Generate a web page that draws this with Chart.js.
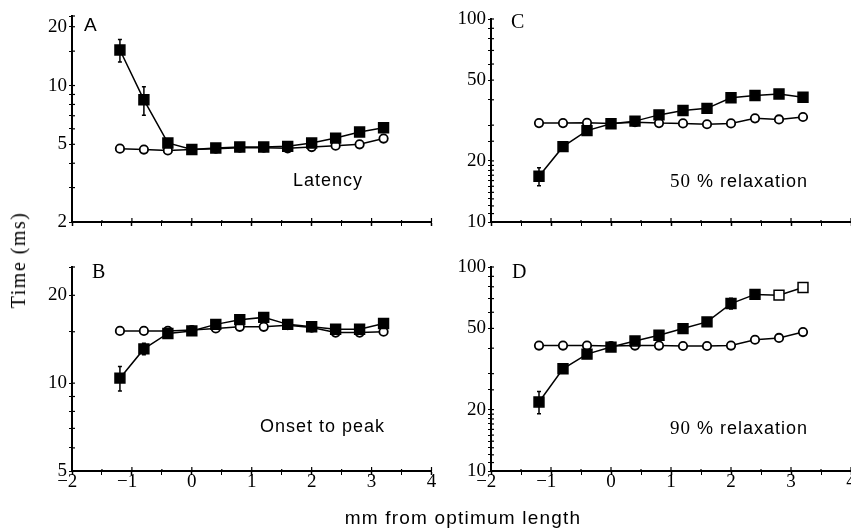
<!DOCTYPE html>
<html><head><meta charset="utf-8">
<script src="https://cdn.jsdelivr.net/npm/chart.js@4.4.1/dist/chart.umd.min.js"></script>
<style>
html,body{margin:0;padding:0;background:#fff;overflow:hidden;width:851px;height:529px;position:relative;}
canvas{position:absolute;}
.t{position:absolute;color:#000;white-space:nowrap;line-height:1;}
.serif{font-family:"Liberation Serif",serif;}
.sans{font-family:"Liberation Sans",sans-serif;}
</style></head><body>
<canvas id="cA" width="440" height="240" style="left:0;top:0"></canvas>
<canvas id="cB" width="440" height="279" style="left:0;top:250px"></canvas>
<canvas id="cC" width="440" height="240" style="left:420px;top:0"></canvas>
<canvas id="cD" width="440" height="279" style="left:420px;top:250px"></canvas>

<div class="t sans" style="left:84px;top:15px;font-size:19px">A</div>
<div class="t serif" style="left:92px;top:261px;font-size:20px">B</div>
<div class="t serif" style="left:511px;top:11px;font-size:20px">C</div>
<div class="t serif" style="left:512px;top:261px;font-size:20px">D</div>

<div class="t sans" style="left:293px;top:171px;font-size:18px;letter-spacing:1px">Latency</div>
<div class="t sans" style="left:260px;top:417px;font-size:18px;letter-spacing:1px">Onset to peak</div>
<div class="t" style="left:670px;top:171px;font-size:18px;letter-spacing:1px"><span class="serif" style="font-size:19px">50</span><span class="sans"> % relaxation</span></div>
<div class="t" style="left:670px;top:418px;font-size:18px;letter-spacing:1px"><span class="serif" style="font-size:19px">90</span><span class="sans"> % relaxation</span></div>

<div class="t serif" style="left:18px;top:260px;font-size:20px;letter-spacing:1.5px;transform:translate(-50%,-50%) rotate(-90deg)">Time (ms)</div>
<div class="t sans" style="left:463px;top:517px;font-size:19px;letter-spacing:1.2px;transform:translate(-50%,-50%)">mm from optimum length</div>

<script>
// ---- data ----
const lengths = [-1.2, -0.8, -0.4, 0, 0.4, 0.8, 1.2, 1.6, 2.0, 2.4, 2.8, 3.2];

const latencyFilled = [15.2, 8.45, 5.08, 4.70, 4.79, 4.84, 4.84, 4.88, 5.08, 5.38, 5.78, 6.08];
const latencyFilledErr = [2.0, 1.4, 0, 0, 0, 0, 0, 0, 0, 0, 0, 0];
const latencyOpen = [4.75, 4.70, 4.65, 4.70, 4.75, 4.80, 4.80, 4.77, 4.84, 4.92, 5.00, 5.35];

const onsetFilled = [10.4, 13.1, 14.8, 15.1, 15.9, 16.5, 16.8, 15.9, 15.6, 15.3, 15.3, 16.0];
const onsetFilledErr = [1.0, 0.6, 0, 0, 0, 0, 0, 0, 0, 0, 0, 0];
const onsetOpen = [15.1, 15.1, 15.1, 15.2, 15.4, 15.6, 15.6, 15.8, 15.5, 14.9, 14.9, 15.0];

const relax50Filled = [16.8, 23.5, 28.2, 30.5, 31.4, 33.7, 35.4, 36.3, 40.9, 42.0, 42.7, 41.2];
const relax50FilledErr = [1.7, 0, 0, 0, 0, 0, 0, 0, 0, 0, 0, 0];
const relax50Open = [30.7, 30.7, 30.8, 30.6, 31.0, 30.7, 30.6, 30.3, 30.6, 32.4, 32.0, 32.9];

const relax90Filled = [21.8, 31.7, 37.4, 40.5, 43.4, 46.3, 49.9, 53.8, 66.2, 73.4, 72.8, 79.4];
const relax90FilledErr = [2.7, 0, 0, 0, 0, 0, 0, 0, 4.0, 0, 0, 0];
const relax90Hollow = [0, 0, 0, 0, 0, 0, 0, 0, 0, 0, 1, 1];
const relax90Open = [41.2, 41.2, 41.2, 41.0, 41.2, 41.2, 41.0, 41.0, 41.2, 44.0, 44.9, 48.0];

const xTickLabels = [-2, -1, 0, 1, 2, 3, 4];
const yTickLabelsA = [2, 5, 10, 20];
const yTickLabelsB = [5, 10, 20];
const yTickLabelsCD = [10, 20, 50, 100];

// ---- drawing ----
Chart.defaults.font.family = '"Liberation Serif", serif';
Chart.defaults.font.size = 19;
Chart.defaults.color = '#000';

const pts = (ys) => lengths.map((x, i) => ({x: x, y: ys[i]}));
const fmtX = (v) => v < 0 ? '\u2212' + Math.abs(v) + '\u2007' : String(v);

const decor = {
  id: 'decor',
  beforeDatasetsDraw(chart) {
    const ctx = chart.ctx, xs = chart.scales.x, ys = chart.scales.y;
    ctx.save();
    ctx.strokeStyle = '#000';
    ctx.lineWidth = 1.5;
    chart.data.datasets.forEach((ds) => {
      if (!ds.errors) return;
      ds.data.forEach((p, j) => {
        const e = ds.errors[j];
        if (!e) return;
        const x = xs.getPixelForValue(p.x);
        const y1 = ys.getPixelForValue(p.y + e), y2 = ys.getPixelForValue(p.y - e);
        ctx.beginPath();
        ctx.moveTo(x, y1); ctx.lineTo(x, y2);
        ctx.moveTo(x - 2, y1); ctx.lineTo(x + 2, y1);
        ctx.moveTo(x - 2, y2); ctx.lineTo(x + 2, y2);
        ctx.stroke();
      });
    });
    // inward halves of tick marks so they cross the axes
    ctx.lineWidth = 1.2;
    xs.ticks.forEach((t) => {
      const x = xs.getPixelForValue(t.value);
      const len = Number.isInteger(t.value) ? 4 : 2;
      ctx.beginPath(); ctx.moveTo(x, xs.top); ctx.lineTo(x, xs.top - len); ctx.stroke();
    });
    ys.ticks.forEach((t) => {
      const y = ys.getPixelForValue(t.value);
      ctx.beginPath(); ctx.moveTo(ys.right, y); ctx.lineTo(ys.right + 3, y); ctx.stroke();
    });
    ctx.restore();
  }
};

function makePanel(id, cfg) {
  const filledBg = cfg.hollow ? cfg.hollow.map(h => h ? '#fff' : '#000') : '#000';
  new Chart(document.getElementById(id), {
    type: 'line',
    data: {
      datasets: [
        {
          data: pts(cfg.filled), errors: cfg.err,
          borderColor: '#000', borderWidth: 1.5,
          pointStyle: 'rect', pointRadius: 7, pointBackgroundColor: filledBg,
          pointBorderColor: '#000', pointBorderWidth: 1.5, tension: 0
        },
        {
          data: pts(cfg.open),
          borderColor: '#000', borderWidth: 1.5,
          pointStyle: 'circle', pointRadius: 4.2, pointBackgroundColor: '#fff',
          pointBorderColor: '#000', pointBorderWidth: 1.8, tension: 0
        }
      ]
    },
    options: {
      responsive: false, animation: false, devicePixelRatio: 1,
      layout: {padding: cfg.pad},
      plugins: {legend: {display: false}, tooltip: {enabled: false}},
      scales: {
        x: {
          type: 'linear', min: -2, max: 4,
          afterFit: (s) => { s.height = cfg.xh; },
          grid: {drawOnChartArea: false, drawTicks: true, tickLength: 4, color: '#000',
                 tickWidth: (c) => Number.isInteger(c.tick.value) ? 1.5 : 1},
          border: {display: true, color: '#000', width: 2},
          ticks: {stepSize: 0.5, autoSkip: false, maxRotation: 0, padding: -4,
                  callback: (v) => (cfg.xLabels && xTickLabels.includes(v)) ? fmtX(v) : ''}
        },
        y: {
          type: 'logarithmic', min: cfg.ymin, max: cfg.ymax,
          afterFit: (s) => { s.width = cfg.yw; },
          grid: {drawOnChartArea: false, drawTicks: true, tickLength: 3, color: '#000', tickWidth: 1.2},
          border: {display: true, color: '#000', width: 2},
          ticks: {autoSkip: false, padding: 2,
                  callback: (v) => cfg.yLabels.includes(v) ? String(v) : ''}
        }
      }
    },
    plugins: [decor]
  });
}

makePanel('cA', {filled: latencyFilled, err: latencyFilledErr, open: latencyOpen,
  ymin: 2, ymax: 22.7, yLabels: yTickLabelsA, xLabels: false,
  pad: {top: 16, right: 8, left: 0, bottom: 0}, xh: 18, yw: 72});
makePanel('cB', {filled: onsetFilled, err: onsetFilledErr, open: onsetOpen,
  ymin: 5, ymax: 25, yLabels: yTickLabelsB, xLabels: true,
  pad: {top: 17, right: 8, left: 0, bottom: 0}, xh: 58, yw: 72});
makePanel('cC', {filled: relax50Filled, err: relax50FilledErr, open: relax50Open,
  ymin: 10, ymax: 100, yLabels: yTickLabelsCD, xLabels: false,
  pad: {top: 19, right: 9, left: 0, bottom: 0}, xh: 18, yw: 71});
makePanel('cD', {filled: relax90Filled, err: relax90FilledErr, open: relax90Open, hollow: relax90Hollow,
  ymin: 10, ymax: 100, yLabels: yTickLabelsCD, xLabels: true,
  pad: {top: 17, right: 9, left: 0, bottom: 0}, xh: 58, yw: 71});
</script>
</body></html>
